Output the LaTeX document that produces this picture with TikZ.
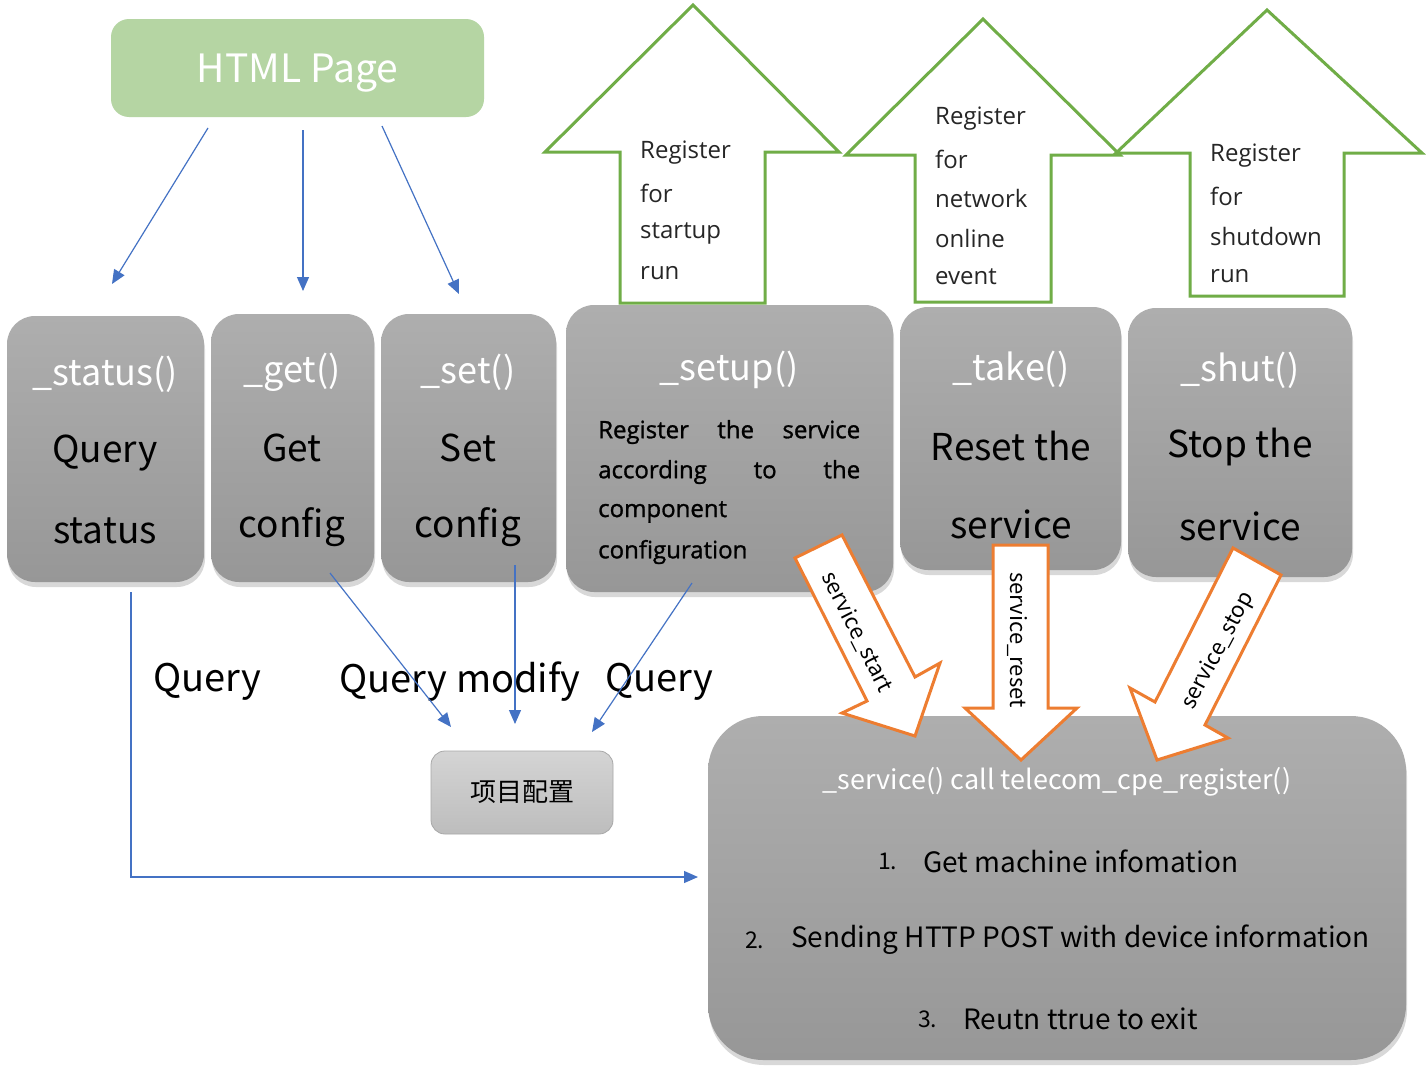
\documentclass[tikz,border=0pt]{standalone}
\usepackage{fontspec}
\setmainfont{Open Sans}
\newfontfamily\cjk{Noto Sans CJK SC}
\newfontfamily\semi[FakeBold=1.2]{Open Sans}
\usetikzlibrary{arrows.meta,shadows}

\definecolor{pagegreen}{HTML}{B5D5A3}
\definecolor{linkblue}{HTML}{4472C4}
\definecolor{regreen}{HTML}{70AD47}
\definecolor{callorange}{HTML}{ED7D31}
\definecolor{boxtop}{HTML}{AEAEAE}
\definecolor{boxbot}{HTML}{979797}
\definecolor{cfgtop}{HTML}{D4D4D4}
\definecolor{cfgbot}{HTML}{BDBDBD}
\definecolor{cfgedge}{HTML}{A8A8A8}

\newcommand{\fsz}[1]{\fontsize{#1}{#1}\selectfont}

\begin{document}
\begin{tikzpicture}[x=1pt,y=-1pt,
  fnbox/.style={rounded corners=28pt, top color=boxtop, bottom color=boxbot,
    draw=none, inner sep=0pt,
    drop shadow={opacity=0.30, shadow xshift=1pt, shadow yshift=-5pt}},
  ttl/.style={text=white, font=\cjk\fsz{36}, inner sep=0pt},
  big/.style={text=black, font=\cjk\fsz{37}, inner sep=0pt},
  lbl/.style={text=black, font=\cjk\fsz{38}, inner sep=0pt},
  regarrow/.style={draw=regreen, line width=3pt, fill=white, line join=miter},
  regtext/.style={anchor=west, font=\fsz{24}, text=black!85, inner sep=0pt},
  callarrow/.style={draw=callorange, line width=3pt, fill=white, line join=miter},
  calltext/.style={font=\cjk\fsz{22}, text=black, inner sep=0pt},
  link/.style={draw=linkblue, line width=1.2pt, -{Triangle[length=14pt,width=12pt]}},
  svcline/.style={anchor=west, font=\cjk\fsz{28}, text=black, inner sep=0pt},
  svcnum/.style={anchor=west, font=\cjk\fsz{23}, text=black, inner sep=0pt},
  setupline/.style={anchor=west, font=\semi\fsz{24}, text=black, inner sep=0pt}
]
\fill[white] (0,0) rectangle (1426,1068);
\useasboundingbox (0,0) rectangle (1426,1068);

% ---- registration arrows (green, pointing up)
\draw[regarrow] (620,303) -- (620,152) -- (545,152) -- (693,5) -- (839,152)
  -- (765,152) -- (765,303) -- cycle;
\draw[regarrow] (915,302) -- (915,155) -- (846,155) -- (983,19) -- (1120,155)
  -- (1051,155) -- (1051,302) -- cycle;
\draw[regarrow] (1190,296) -- (1190,153) -- (1116,153) -- (1267,10) -- (1422,153)
  -- (1344,153) -- (1344,296) -- cycle;

\node[regtext] (r1a) at (640,153) {Register};
\node[regtext] (r1b) at (640,193) {for};
\node[regtext] (r1c) at (640,233) {startup};
\node[regtext] (r1d) at (640,273) {run};

\node[regtext] (r2a) at (935,119) {Register};
\node[regtext] (r2b) at (935,159) {for};
\node[regtext] (r2c) at (935,198) {network};
\node[regtext] (r2d) at (935,238) {online};
\node[regtext] (r2e) at (935,277) {event};

\node[regtext] (r3a) at (1210,156) {Register};
\node[regtext] (r3b) at (1210,196) {for};
\node[regtext] (r3c) at (1210,236) {shutdown};
\node[regtext] (r3d) at (1210,276) {run};

% ---- HTML page
\node[rounded corners=18pt, fill=pagegreen, minimum width=373pt, minimum height=98pt,
  inner sep=0pt] (html) at (297.5,68) {};
\node[text=white, font=\cjk\fsz{39}, inner sep=0pt] (htmlT) at (297.5,73) {HTML Page};

% ---- function boxes
\node[fnbox, minimum width=197pt, minimum height=266pt] (status) at (105.5,449) {};
\node[fnbox, minimum width=163pt, minimum height=268pt] (get) at (292.5,448) {};
\node[fnbox, minimum width=175pt, minimum height=268pt] (set) at (468.5,448) {};
\node[fnbox, minimum width=327pt, minimum height=287pt] (setup) at (729.5,448.5) {};
\node[fnbox, minimum width=221pt, minimum height=263pt] (take) at (1010.5,438.5) {};
\node[fnbox, minimum width=224pt, minimum height=269pt] (shut) at (1240,442.5) {};
\node[fnbox, rounded corners=55pt, minimum width=698pt, minimum height=344pt] (svc) at (1057,888) {};

\node[ttl] (statusT) at (105,374) {\_status()};
\node[big] (statusA) at (105,453) {Query};
\node[big] (statusB) at (105,531) {status};

\node[ttl] (getT) at (292,372) {\_get()};
\node[big] (getA) at (292,448) {Get};
\node[big] (getB) at (292,527) {config};

\node[ttl] (setT) at (468,372) {\_set()};
\node[big] (setA) at (468,448) {Set};
\node[big] (setB) at (468,527) {config};

\node[ttl] (setupT) at (729,370) {\_setup()};
\node[setupline] (su1) at (598,432) {\makebox[262pt][s]{Register\hfill the\hfill service}};
\node[setupline] (su2) at (598,472) {\makebox[262pt][s]{according\hfill to\hfill the}};
\node[setupline] (su3) at (598,512) {component};
\node[setupline] (su4) at (598,552) {configuration};

\node[ttl] (takeT) at (1011,369) {\_take()};
\node[big] (takeA) at (1011,446) {Reset the};
\node[big] (takeB) at (1011,524) {service};

\node[ttl] (shutT) at (1240,370) {\_shut()};
\node[big] (shutA) at (1240,447) {Stop the};
\node[big] (shutB) at (1240,526) {service};

% ---- service box contents
\node[ttl, font=\cjk\fsz{27}] (svcT) at (1057,782) {\_service() call telecom\_cpe\_register()};
\node[svcnum] (n1) at (878,861) {1.};
\node[svcline] (l1) at (923,861) {Get machine infomation};
\node[svcnum] (n2) at (745,940) {2.};
\node[svcline] (l2) at (791,940) {Sending HTTP POST with device information};
\node[svcnum] (n3) at (918,1019) {3.};
\node[svcline] (l3) at (963,1019) {Reutn ttrue to exit};

% ---- project configuration
\node[rounded corners=14pt, top color=cfgtop, bottom color=cfgbot, draw=cfgedge,
  line width=0.8pt, minimum width=182pt, minimum height=83pt, inner sep=0pt,
  font=\cjk\fsz{26}] (cfg) at (522,792.5) {项目配置};

% ---- call arrows (orange)
\draw[callarrow] (795,558) -- (842,535) -- (915,677) -- (940,663) -- (915,736)
  -- (842,713) -- (867,701) -- cycle;
\node[calltext, rotate=-63] (cs1) at (857,632) {service\_start};

\draw[callarrow] (993,545) -- (1048,545) -- (1048,708) -- (1077,708) -- (1021,760)
  -- (965,708) -- (993,708) -- cycle;
\node[calltext, rotate=-90] (cs2) at (1017,640) {service\_reset};

\draw[callarrow] (1233,548) -- (1281,575) -- (1205,725) -- (1228,738) -- (1157,760)
  -- (1130,688) -- (1155,702) -- cycle;
\node[calltext, rotate=62] (cs3) at (1218,651) {service\_stop};

% ---- labels
\node[lbl] (q1) at (207,682) {Query};
\node[lbl] (q2) at (460,682) {Query modify};
\node[lbl] (q3) at (659,682) {Query};

% ---- connectors
\coordinate (h1) at (208,128);
\coordinate (h2) at (303,130);
\coordinate (h3) at (382,126);
\coordinate (s1) at (112,284);
\coordinate (s2) at (303,291);
\coordinate (s3) at (459,294);
\draw[link] (h1) -- (s1);
\draw[link] (h2) -- (s2);
\draw[link] (h3) -- (s3);

\coordinate (g0) at (330,573);
\coordinate (t0) at (515,565);
\coordinate (u0) at (692,583);
\coordinate (c1) at (451,727);
\coordinate (c2) at (515,724);
\coordinate (c3) at (592,732);
\draw[link] (g0) -- (c1);
\draw[link] (t0) -- (c2);
\draw[link] (u0) -- (c3);

\coordinate (q0) at (131,592);
\coordinate (svcin) at (698,877);
\draw[link] (q0) |- (svcin);
\end{tikzpicture}
\end{document}
